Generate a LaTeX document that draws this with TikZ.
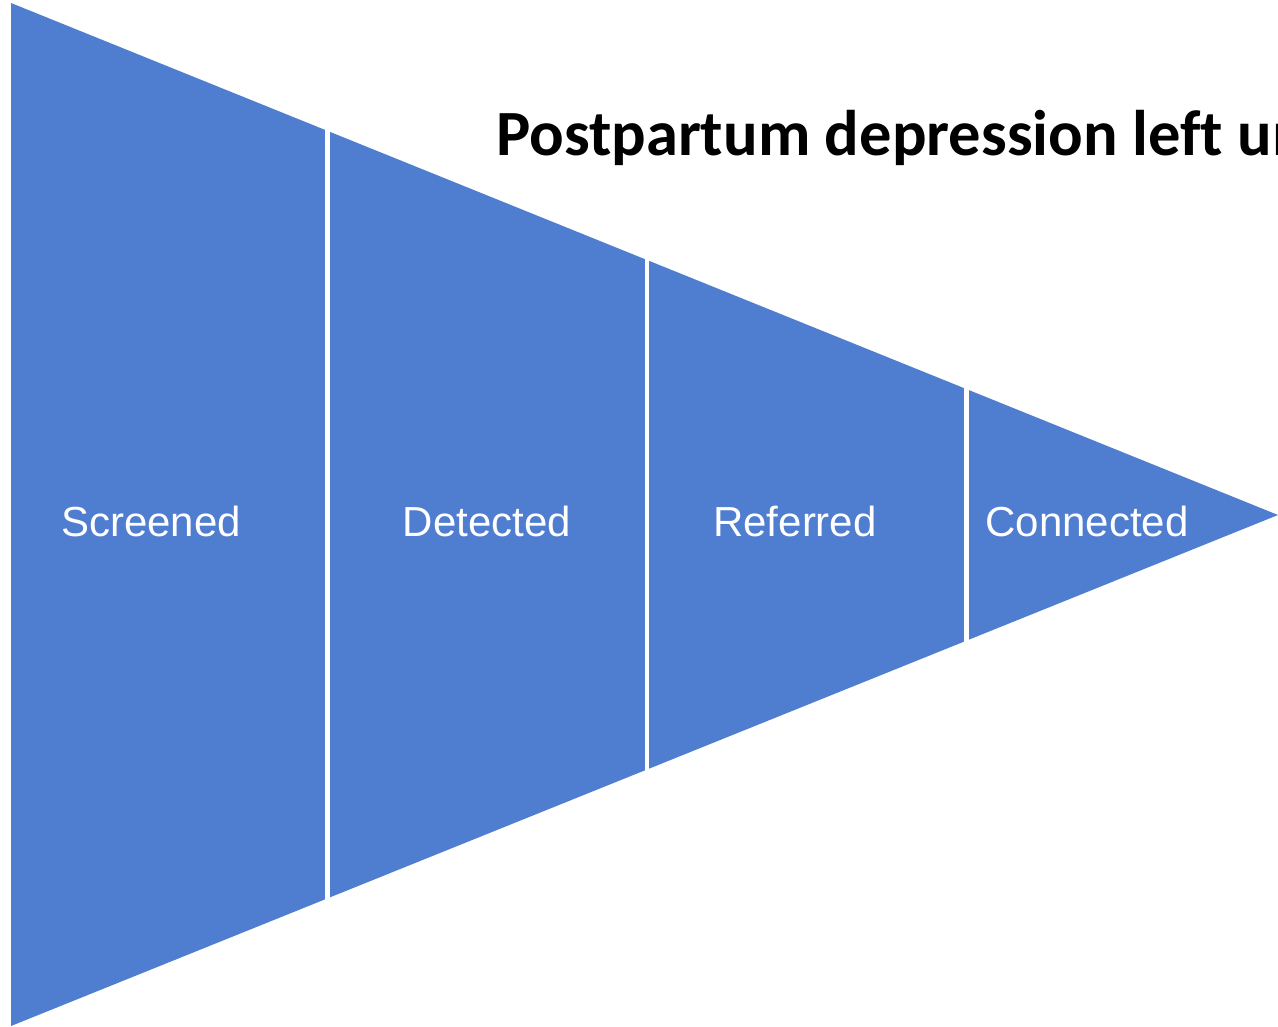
\documentclass[tikz,border=0pt]{standalone}
\usepackage{fontspec}
\setmainfont{Liberation Sans}
\newfontfamily\titlefont[Ligatures=NoCommon]{Carlito}
\definecolor{funnelblue}{RGB}{79,125,208}
\tikzset{
  seglabel/.style={text=white, anchor=base, font=\fontsize{42}{48}\selectfont, inner sep=0pt},
  gapline/.style={draw=white, line width=4.5pt},
  titletext/.style={anchor=base west, font=\titlefont\bfseries\fontsize{64.5}{72}\selectfont, inner sep=0pt}
}
\begin{document}
\begin{tikzpicture}[x=1pt,y=-1pt]
\useasboundingbox (0,0) rectangle (1278,1027);
\clip (0,0) rectangle (1278,1027);
\fill[white] (0,0) rectangle (1278,1027);
% funnel
\coordinate (tl) at (11,3);
\coordinate (bl) at (11,1026);
\coordinate (tip) at (1278,515);
\fill[funnelblue] (tl) -- (tip) -- (bl) -- cycle;
% separators
\draw[gapline] (327.5,0) -- (327.5,1027);
\draw[gapline] (647,0) -- (647,1027);
\draw[gapline] (966.5,0) -- (966.5,1027);
% labels
\node[seglabel] (s1) at (151,536) {Screened};
\node[seglabel] (s2) at (487,536) {Detected};
\node[seglabel] (s3) at (795,536) {Referred};
\node[seglabel] (s4) at (1087,536) {Connected};
% title
\node[titletext] (title) at (496,156) {Postpartum depression left untreated};
\end{tikzpicture}
\end{document}
